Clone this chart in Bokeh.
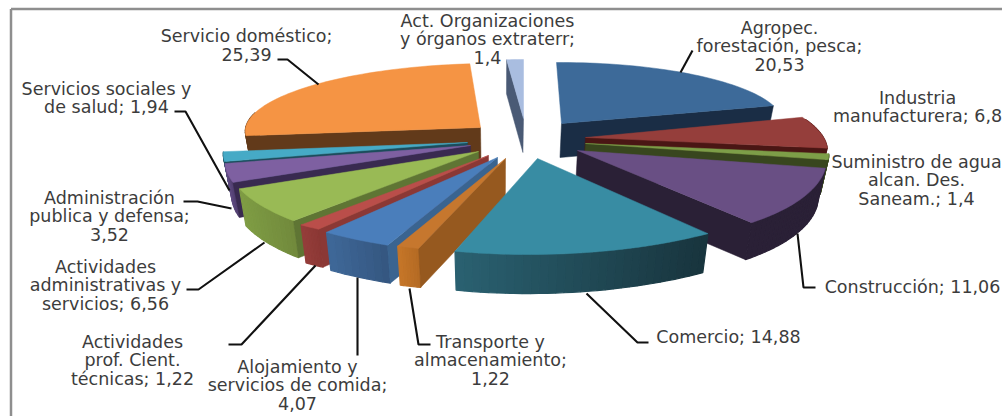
import math
from bokeh.plotting import figure
from bokeh.embed import file_html
from bokeh.resources import INLINE
from bokeh.core.properties import value

# ---- data (percent shares, clockwise from 12 o'clock) ----
sectors = ["Agropec", "Industria", "Suministro", "Construccion", "Comercio", "Transporte",
           "Alojamiento", "ActProf", "ActAdm", "AdmPub", "ServSoc", "ServDom", "ActOrg"]
shares = [20.53, 6.8, 1.4, 11.06, 14.88, 1.22, 4.07, 1.22, 6.56, 3.52, 1.94, 25.39, 1.4]

label_lines = [
    ["Agropec.", "forestación, pesca;", "20,53"],
    ["Industria", "manufacturera; 6,8"],
    ["Suministro de agua", "alcan. Des.", "Saneam.; 1,4"],
    ["Construcción; 11,06"],
    ["Comercio; 14,88"],
    ["Transporte y", "almacenamiento;", "1,22"],
    ["Alojamiento y", "servicios de comida;", "4,07"],
    ["Actividades", "prof. Cient.", "técnicas; 1,22"],
    ["Actividades", "administrativas y", "servicios; 6,56"],
    ["Administración", "publica y defensa;", "3,52"],
    ["Servicios sociales y", "de salud; 1,94"],
    ["Servicio doméstico;", "25,39"],
    ["Act. Organizaciones", "y órganos extraterr;", "1,4"],
]

# ---- colours: top, cut wall, rim wall from/to ----
top_col = ["#3d6a99", "#953e3b", "#7d9e48", "#694f84", "#388ca3", "#c6772e", "#4a7ebb",
           "#ba4e4a", "#99ba55", "#7e60a1", "#46aac6", "#f59444", "#a9bde0"]
cut_col = ["#1a2d45", "#4a1614", "#38461e", "#2a2036", "#1a3a45", "#96591f", "#3a6490",
           "#8b3835", "#5f7534", "#392a50", "#1c4c5b", "#623a1a", "#4a5a75"]
rim_a = ["#1a2d45", "#5a1c1a", "#38461e", "#2a2036", "#2a6171", "#c57628", "#3f6899",
         "#953d3a", "#7f9d44", "#5e4a80", "#1c4c5b", "#623a1a", "#4a5a75"]
rim_b = ["#1a2d45", "#5a1c1a", "#38461e", "#2a2036", "#18343d", "#b36a24", "#34567f",
         "#8b3835", "#71893c", "#4f3c6c", "#1c4c5b", "#623a1a", "#4a5a75"]

# ---- layout of each exploded slice on the page (perspective is per slice) ----
apex_x = [561, 585, 585, 577, 537, 505, 497, 488, 478, 470, 467, 480, 523]
apex_y = [123, 137, 143, 150, 158, 158, 157, 155, 151, 145, 142, 127, 118]
rad_x = [222, 238, 240, 247, 285, 290, 278, 290, 252, 241, 242, 235, 192]
rad_y = [61, 73, 70, 93, 96, 94, 96, 91, 95, 90, 82, 64, 59]
shear_x = [-5, -43, -40, -33, 0, 3, 10, 0, 29, 48, 33, 10, 0]
shear_y = [-1, 0, 0, -4, -3, 0, 5, 0, 5, 3, 0, -1, 0]
depth = [34, 34, 35, 37, 39, 39, 38, 38, 37, 35, 34, 34, 34]
paint_order = [0, 1, 2, 3, 12, 11, 10, 9, 8, 7, 6, 5, 4]
VANISH_X, SHRINK = 500, 0.025
BACK_FACING = 0.25

label_x = [779, 917, 916, 912, 728, 490, 297, 132, 105, 109, 106, 246, 487]
label_y = [27, 97, 161, 286, 336, 341, 366, 341, 266, 197, 88, 35, 20]
LINE_H = 18.6

leaders = [
    ([692, 680], [50, 72]),
    ([815, 803, 797], [287, 287, 233]),
    ([648, 637, 586], [342, 342, 293]),
    ([430, 418, 409], [344, 344, 288]),
    ([357, 357], [355, 277]),
    ([228, 241, 315], [344, 344, 265]),
    ([186, 198, 264], [289, 289, 242]),
    ([183, 197, 231], [201, 201, 208]),
    ([174, 185, 229], [111, 111, 190]),
    ([277, 287, 318], [59, 59, 84]),
]

p = figure(width=1002, height=416, x_range=(0, 1002), y_range=(416, 0),
           output_backend="svg", toolbar_location=None, min_border=0,
           background_fill_color="white", border_fill_color="white", outline_line_color=None)
p.axis.visible = False
p.grid.visible = False


def mix(a, b, t):
    ca = [int(a[i:i + 2], 16) for i in (1, 3, 5)]
    cb = [int(b[i:i + 2], 16) for i in (1, 3, 5)]
    return "#%02x%02x%02x" % tuple(round(u + (v - u) * t) for u, v in zip(ca, cb))


def rim_point(i, th):
    s, c = math.sin(th), math.cos(th)
    return (apex_x[i] + rad_x[i] * s + shear_x[i] * c,
            apex_y[i] - rad_y[i] * c + shear_y[i] * s)


def lower(i, x, y):
    return x + (VANISH_X - x) * SHRINK, y + depth[i]


total = sum(shares)
starts = []
acc = 0.0
for v in shares:
    starts.append(acc / total * 2 * math.pi)
    acc += v

for i in paint_order:
    a0 = starts[i]
    a1 = a0 + shares[i] / total * 2 * math.pi
    n = max(6, int((a1 - a0) / 0.03))
    ths = [a0 + (a1 - a0) * k / n for k in range(n + 1)]
    rim = [rim_point(i, t) for t in ths]
    low = [lower(i, x, y) for x, y in rim]
    ax, ay = apex_x[i], apex_y[i]
    bx, by = lower(i, ax, ay)
    xs, ys, cols = [], [], []
    lo, hi = min(r[0] for r in rim), max(r[0] for r in rim)
    for k in range(n):
        if math.cos((ths[k] + ths[k + 1]) / 2) > BACK_FACING:
            continue
        xs.append([rim[k][0], rim[k + 1][0], low[k + 1][0], low[k][0]])
        ys.append([rim[k][1], rim[k + 1][1], low[k + 1][1], low[k][1]])
        t = (rim[k][0] + rim[k + 1][0]) / 2
        cols.append(mix(rim_a[i], rim_b[i], (t - lo) / max(hi - lo, 1)))
    if xs:
        p.patches(xs, ys, fill_color=cols, line_color=cols, line_width=1.2)
    # only the cut faces that turn towards the viewer
    faces = ([0] if a0 > math.pi else []) + ([-1] if a1 < math.pi else [])
    for end in faces:
        p.patch([ax, rim[end][0], low[end][0], bx], [ay, rim[end][1], low[end][1], by],
                fill_color=cut_col[i], line_color=cut_col[i], line_width=0.5)
    p.patch([ax] + [r[0] for r in rim], [ay] + [r[1] for r in rim],
            fill_color=top_col[i], line_color=top_col[i], line_width=0.5)

for lx, ly in leaders:
    p.line(lx, ly, line_color="#111111", line_width=2.1)

p.line([10.5, 10.5], [416, 8.5], line_color="#8e8e8e", line_width=2.5)
p.line([10.5, 1002], [8.5, 8.5], line_color="#8e8e8e", line_width=2.5)

for i, lines in enumerate(label_lines):
    for k, line in enumerate(lines):
        p.text([label_x[i]], [label_y[i] + k * LINE_H], text=[line],
               text_align="center", text_baseline="middle",
               text_font=value("DejaVu Sans"), text_font_size="17.5px", text_color="#3c3c3c")

open("out.html", "w").write(file_html(p, INLINE))
